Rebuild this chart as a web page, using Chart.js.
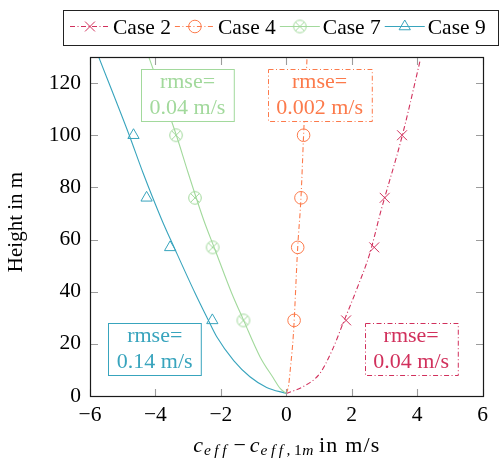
<!DOCTYPE html>
<html>
<head>
<meta charset="utf-8">
<script src="https://cdn.jsdelivr.net/npm/chart.js@4.4.1/dist/chart.umd.min.js"></script>
<style>html,body{margin:0;padding:0;background:#fff;}canvas{display:block;}</style>
</head>
<body>
<canvas id="c" width="499" height="458"></canvas>
<script>
// ---------- data ----------
const seriesNames = ['Case 2', 'Case 4', 'Case 7', 'Case 9'];
const heights = [29, 57, 76, 100];
const case2Meas = [1.83, 2.69, 3.01, 3.54];
const case4Meas = [0.24, 0.35, 0.45, 0.53];
const case7Meas = [-1.31, -2.25, -2.79, -3.37];
const case9Meas = [-2.26, -3.55, -4.27, -4.67];

const case2FitX = [0, 0.52, 1.03, 1.41, 1.74, 2.15, 2.56, 2.88, 3.55, 4.10];
const case2FitH = [1, 3.6, 8.7, 17.7, 28, 40.8, 54.9, 70.3, 100, 129];
const case4FitX = [0, 0.07, 0.13, 0.22, 0.35, 0.45, 0.53, 0.64];
const case4FitH = [1, 4, 11, 24, 57, 76, 100, 131];
const case7FitX = [0, -0.18, -0.4, -0.8, -1.31, -1.67, -2.18, -2.53, -3.00, -3.36, -4.23];
const case7FitH = [1, 2.8, 7, 15, 29.2, 39.5, 56.2, 67.7, 85.6, 100, 131];
const case9FitX = [0, -0.6, -1.11, -1.6, -2.13, -2.40, -2.79, -3.40, -3.81, -4.38, -4.80, -5.75];
const case9FitH = [1, 3.3, 7.4, 13.5, 22.8, 29.5, 39.5, 56.2, 67.7, 85.6, 100, 130.5];

const rmseLabels = ['0.04 m/s', '0.002 m/s', '0.04 m/s', '0.14 m/s'];
const xTickValues = [-6, -4, -2, 0, 2, 4, 6];
const yTickValues = [0, 20, 40, 60, 80, 100, 120];
const xTitleParts = ['c', 'eff', '\u2212', 'c', 'eff,', '1', 'm', 'in m/s'];
const yTitle = 'Height in m';

// ---------- styles ----------
const FONT = '"Liberation Serif", "Times New Roman", serif';
const colors = ['#d1305c', '#fc7a4b', '#a2d99c', '#38a4bd'];
const dashDot = [5, 2.5, 1, 2.5];
const dashes = [dashDot, dashDot, [], []];

function circleXCanvas(color, r) {
  const s = 16, c = 8;
  const cv = document.createElement('canvas');
  cv.width = s; cv.height = s;
  const g = cv.getContext('2d');
  g.strokeStyle = color; g.lineWidth = 1;
  g.beginPath(); g.arc(c, c, r, 0, Math.PI * 2); g.stroke();
  const d = r * Math.SQRT1_2;
  g.beginPath();
  g.moveTo(c - d, c - d); g.lineTo(c + d, c + d);
  g.moveTo(c - d, c + d); g.lineTo(c + d, c - d);
  g.stroke();
  return cv;
}
const markerStyles = ['crossRot', 'circle', circleXCanvas(colors[2], 6.3), 'triangle'];
const markerRadius = [7, 6.3, 6.3, 6.5];

const measSets = [case2Meas, case4Meas, case7Meas, case9Meas];
const fitSets = [[case2FitX, case2FitH], [case4FitX, case4FitH], [case7FitX, case7FitH], [case9FitX, case9FitH]];

const datasets = [];
fitSets.forEach(([xs, hs], i) => {
  datasets.push({
    label: seriesNames[i] + ' fit',
    data: xs.map((x, k) => ({ x: x, y: hs[k] })),
    showLine: true, borderColor: colors[i], borderWidth: 1.1, borderDash: dashes[i],
    pointRadius: 0, pointHoverRadius: 0, cubicInterpolationMode: 'monotone', fill: false
  });
});
measSets.forEach((xs, i) => {
  datasets.push({
    label: seriesNames[i],
    data: xs.map((x, k) => ({ x: x, y: heights[k] })),
    showLine: false, pointStyle: markerStyles[i], pointRadius: markerRadius[i],
    pointHoverRadius: markerRadius[i],
    pointBorderColor: colors[i], pointBackgroundColor: 'rgba(0,0,0,0)', pointBorderWidth: 1,
    borderColor: colors[i]
  });
});

// rmse boxes: anchored in data coordinates
const boxes = [
  { series: 0, x: 3.82, y: 18.2 },
  { series: 1, x: 1.02, y: 115.3 },
  { series: 2, x: -3.02, y: 115.3 },
  { series: 3, x: -4.02, y: 18.2 }
];

function drawMarker(ctx, i, x, y) {
  const st = markerStyles[i], r = markerRadius[i];
  ctx.save();
  ctx.strokeStyle = colors[i]; ctx.lineWidth = 1; ctx.setLineDash([]);
  if (st instanceof HTMLCanvasElement) {
    ctx.drawImage(st, x - st.width / 2, y - st.height / 2);
  } else if (st === 'circle') {
    ctx.beginPath(); ctx.arc(x, y, r, 0, Math.PI * 2); ctx.stroke();
  } else if (st === 'crossRot') {
    const d = r * Math.SQRT1_2;
    ctx.beginPath();
    ctx.moveTo(x - d, y - d); ctx.lineTo(x + d, y + d);
    ctx.moveTo(x - d, y + d); ctx.lineTo(x + d, y - d);
    ctx.stroke();
  } else if (st === 'triangle') {
    let rad = 0;
    ctx.beginPath();
    ctx.moveTo(x + Math.sin(rad) * r, y - Math.cos(rad) * r);
    rad += 2 * Math.PI / 3;
    ctx.lineTo(x + Math.sin(rad) * r, y - Math.cos(rad) * r);
    rad += 2 * Math.PI / 3;
    ctx.lineTo(x + Math.sin(rad) * r, y - Math.cos(rad) * r);
    ctx.closePath(); ctx.stroke();
  }
  ctx.restore();
}

const decorPlugin = {
  id: 'decor',
  afterDatasetsDraw(chart) {
    const ctx = chart.ctx;
    const xs = chart.scales.x, ys = chart.scales.y;
    // rmse boxes
    ctx.save();
    ctx.font = '22px ' + FONT;
    boxes.forEach(b => {
      const cx = xs.getPixelForValue(b.x), cy = ys.getPixelForValue(b.y);
      const col = colors[b.series];
      const w = Math.max(ctx.measureText('rmse=').width, ctx.measureText(rmseLabels[b.series]).width) + 17;
      const h = 52;
      const left = Math.round(cx - w / 2) + 0.5, top = Math.round(cy - h / 2) + 0.5;
      ctx.fillStyle = '#fff';
      ctx.fillRect(left, top, w, h);
      ctx.strokeStyle = col; ctx.lineWidth = 1;
      ctx.setLineDash(dashes[b.series]);
      ctx.strokeRect(left, top, w, h);
      ctx.setLineDash([]);
      ctx.fillStyle = col;
      ctx.textAlign = 'center'; ctx.textBaseline = 'alphabetic';
      ctx.fillText('rmse=', cx, top + 18.5);
      ctx.fillText(rmseLabels[b.series], cx, top + 44.5);
    });
    ctx.restore();
  },
  afterDraw(chart) {
    const ctx = chart.ctx;
    const a = chart.chartArea;
    const xs = chart.scales.x, ys = chart.scales.y;
    const L = Math.round(a.left) + 0.5, R = Math.round(a.right) + 0.5;
    const T = Math.round(a.top) + 0.5, B = Math.round(a.bottom) + 0.5;
    ctx.save();
    // inward ticks on all sides
    ctx.strokeStyle = '#9c9c9c'; ctx.lineWidth = 1.1;
    const tl = 7.5;
    ctx.beginPath();
    xTickValues.forEach(v => {
      const px = Math.round(xs.getPixelForValue(v)) + 0.5;
      ctx.moveTo(px, B); ctx.lineTo(px, B - tl);
      ctx.moveTo(px, T); ctx.lineTo(px, T + tl);
    });
    yTickValues.forEach(v => {
      const py = Math.round(ys.getPixelForValue(v)) + 0.5;
      ctx.moveTo(L, py); ctx.lineTo(L + tl, py);
      ctx.moveTo(R, py); ctx.lineTo(R - tl, py);
    });
    ctx.stroke();
    // frame
    ctx.strokeStyle = '#1a1a1a'; ctx.lineWidth = 1.2;
    ctx.strokeRect(L, T, R - L, B - T);

    // legend
    ctx.strokeStyle = '#222'; ctx.lineWidth = 1;
    ctx.strokeRect(63.5, 10.5, 435, 35);
    ctx.font = '21.5px ' + FONT;
    ctx.textBaseline = 'alphabetic'; ctx.textAlign = 'left';
    let x = 70;
    const ly = 26.5;
    seriesNames.forEach((name, i) => {
      ctx.strokeStyle = colors[i]; ctx.lineWidth = 1.1;
      ctx.setLineDash(dashes[i]);
      ctx.beginPath(); ctx.moveTo(x, ly); ctx.lineTo(x + 40, ly); ctx.stroke();
      ctx.setLineDash([]);
      drawMarker(ctx, i, x + 20, ly);
      ctx.fillStyle = '#000';
      ctx.fillText(name, x + 43, 34);
      x += 43 + ctx.measureText(name).width + 4;
    });

    // y title
    ctx.save();
    ctx.font = '21px ' + FONT;
    ctx.fillStyle = '#000'; ctx.textAlign = 'center'; ctx.textBaseline = 'alphabetic';
    ctx.translate(21.5, (a.top + a.bottom) / 2 - 4.5);
    ctx.rotate(-Math.PI / 2);
    ctx.fillText(yTitle, 0, 0);
    ctx.restore();

    // x title with sub-scripts
    const it = 'italic 22px ' + FONT, sub = 'italic 15.5px ' + FONT, subUp = '15.5px ' + FONT, up = '22px ' + FONT;
    const segs = [];
    const pushChars = (str, font, dy, extra) => { for (const ch of str) segs.push({ t: ch, font, dy, extra }); };
    pushChars(xTitleParts[0], it, 0, 1);
    pushChars(xTitleParts[1], sub, 3.5, 3.5);
    segs[segs.length - 1].extra = 7;
    pushChars(xTitleParts[2], up, 0, 4);
    pushChars(xTitleParts[3], it, 0, 1);
    pushChars(xTitleParts[4], sub, 3.5, 3.5);
    pushChars(xTitleParts[5], subUp, 3.5, 0.5);
    pushChars(xTitleParts[6], sub, 3.5, 5.5);
    pushChars(xTitleParts[7], up, 0, 1.2);
    let total = 0;
    segs.forEach(s => { ctx.font = s.font; s.w = ctx.measureText(s.t).width; total += s.w + s.extra; });
    total -= segs[segs.length - 1].extra;
    let tx = (a.left + a.right) / 2 - total / 2;
    ctx.fillStyle = '#000'; ctx.textAlign = 'left'; ctx.textBaseline = 'alphabetic';
    segs.forEach(s => { ctx.font = s.font; ctx.fillText(s.t, tx, 451.5 + s.dy); tx += s.w + s.extra; });
    ctx.restore();
  }
};

const fmt = v => (v < 0 ? '\u2212' + Math.abs(v) : String(v));

new Chart(document.getElementById('c'), {
  type: 'scatter',
  data: { datasets },
  options: {
    responsive: false, animation: false, devicePixelRatio: 1,
    layout: { padding: { left: 0, right: 16.5, top: 57, bottom: 0 } },
    plugins: { legend: { display: false }, tooltip: { enabled: false } },
    events: [],
    scales: {
      x: {
        type: 'linear', min: -6, max: 6,
        afterBuildTicks: s => { s.ticks = xTickValues.map(v => ({ value: v })); },
        grid: { display: false, drawTicks: false }, border: { display: false },
        ticks: { font: { family: FONT, size: 21.5 }, color: '#000', padding: 6, maxRotation: 0, callback: fmt },
        afterFit: s => { s.height = 62; }
      },
      y: {
        type: 'linear', min: 0, max: 130,
        afterBuildTicks: s => { s.ticks = yTickValues.map(v => ({ value: v })); },
        grid: { display: false, drawTicks: false }, border: { display: false },
        ticks: { font: { family: FONT, size: 21.5 }, color: '#000', padding: 9, callback: fmt },
        afterFit: s => { s.width = 90; }
      }
    }
  },
  plugins: [decorPlugin]
});
</script>
</body>
</html>
